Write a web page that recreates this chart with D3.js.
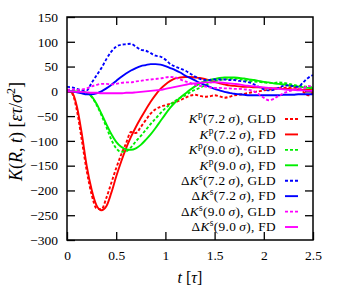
<!DOCTYPE html>
<html>
<head>
<meta charset="utf-8">
<script src="https://cdn.jsdelivr.net/npm/d3@7"></script>
<style>
  body { margin: 0; background: #fff; }
  svg { display: block; font-family: "Liberation Serif", "DejaVu Serif", serif; }
  .tick text { font-size: 13.5px; fill: #000; }
  .tick line { stroke: #000; stroke-width: 1.3px; }
</style>
</head>
<body>
<svg id="chart" width="340" height="290"></svg>
<script>
// sample times [tau], step 0.05 from 0 to 2.5
const time = d3.range(51).map(i => i * 0.05);

// K^p and Delta K^s  [eps tau / sigma^2]
const kp72gld = [0,-4,-38,-98,-160,-208,-236,-238,-215,-185,-155,-128,-105,-82,-84,-72,-58,-45,-36,-31,-28,-25,-22,-18,-13,-9,-7,-9,-11,-10,-8,-10,-13,-11,-8,-7,-5,-3,-1,0,2,3,5,6,7,8,8,5,-1,-8,-2];
const kp72fd  = [0,-2,-30,-85,-150,-198,-230,-240,-232,-205,-172,-142,-115,-92,-72,-54,-37,-21,-7,5,14,21,26,28,29,29,28,27,25,22,19,16,14,12,11,10,9,9,8,8,7,7,6,6,5,5,4,4,3,3,3];
const kp90gld = [0,2,1,0,-3,-11,-27,-48,-72,-97,-115,-122,-121,-113,-101,-90,-78,-66,-55,-44,-34,-26,-19,-13,-8,-2,3,7,12,17,21,23,24,25,26,25,23,21,20,19,18,17,17,18,17,15,13,11,10,9,8];
const kp90fd  = [0,0,0,-1,-3,-10,-25,-45,-66,-86,-102,-112,-117,-118,-115,-108,-98,-87,-74,-60,-46,-33,-22,-13,-5,3,10,16,20,23,25,27,28,28,28,27,26,24,23,21,19,18,16,15,14,12,11,10,8,7,6];
const dks72gld = [9,8,5,2,2,17,32,47,65,80,90,94,95,96,90,84,82,77,72,70,64,55,50,46,42,36,30,25,23,23,24,24,24,23,23,21,20,18,14,9,4,2,3,7,11,12,10,9,18,27,33];
const dks72fd  = [0,0,-2,-4,-6,-6,-4,0,6,13,21,29,36,42,47,51,53,55,55,54,51,47,43,38,32,27,22,17,13,9,5,2,-1,-3,-5,-6,-7,-8,-8,-8,-8,-8,-8,-8,-7,-7,-7,-6,-6,-6,-6];
const dks90gld = [3,4,3,4,6,10,13,15,15,14,15,17,18,18,20,21,23,24,25,26,28,29,28,24,20,17,13,11,10,8,7,7,6,6,5,5,4,3,0,-6,-13,-18,-15,-9,-4,0,3,5,6,11,8];
const dks90fd  = [0,0,-1,-1,-2,-3,-3,-4,-4,-4,-4,-4,-3,-3,-2,-1,0,1,2,3,5,7,9,11,13,15,16,17,18,18,18,18,17,16,15,14,12,11,10,9,8,7,6,5,4,3,3,2,2,1,1];

// legend pieces
const legendDelta  = ['', '', '', '', 'Δ', 'Δ', 'Δ', 'Δ'];
const legendSup    = ['p', 'p', 'p', 'p', 's', 's', 's', 's'];
const legendRadius = ['7.2', '7.2', '9.0', '9.0', '7.2', '7.2', '9.0', '9.0'];
const legendMethod = ['GLD', 'FD', 'GLD', 'FD', 'GLD', 'FD', 'GLD', 'FD'];

const xTicks = [0, 0.5, 1, 1.5, 2, 2.5];
const yTicks = [-300, -250, -200, -150, -100, -50, 0, 50, 100, 150];

const seriesValues = [kp72gld, kp72fd, kp90gld, kp90fd, dks72gld, dks72fd, dks90gld, dks90fd];
const colours = ['#ff0000', '#ff0000', '#00ee00', '#00ee00', '#0000ff', '#0000ff', '#ff00ff', '#ff00ff'];

const margin = {left: 67, right: 27, top: 17, bottom: 50};
const width = 340, height = 290;
const svg = d3.select('#chart');

const x = d3.scaleLinear().domain([0, 2.5]).range([margin.left, width - margin.right]);
const y = d3.scaleLinear().domain([-300, 150]).range([height - margin.bottom, margin.top]);

svg.append('defs').append('clipPath').attr('id', 'plotclip')
  .append('rect')
  .attr('x', x(0)).attr('y', y(150))
  .attr('width', x(2.5) - x(0)).attr('height', y(-300) - y(150));

// axes, ticks pointing inward
const tl = 8;
const clean = g => g.attr('font-family', null).attr('font-size', null).select('.domain').remove();
svg.append('g').attr('transform', `translate(0,${y(-300)})`)
  .call(d3.axisBottom(x).tickValues(xTicks).tickSize(-tl).tickPadding(10).tickFormat(d3.format('')))
  .call(clean);
svg.append('g').attr('transform', `translate(0,${y(150)})`)
  .call(d3.axisTop(x).tickValues(xTicks.slice(1, -1)).tickSize(-tl).tickFormat(''))
  .call(clean);
svg.append('g').attr('transform', `translate(${x(0)},0)`)
  .call(d3.axisLeft(y).tickValues(yTicks).tickSize(-tl).tickPadding(9))
  .call(clean);
svg.append('g').attr('transform', `translate(${x(2.5)},0)`)
  .call(d3.axisRight(y).tickValues(yTicks.slice(1, -1)).tickSize(-tl).tickFormat(''))
  .call(clean);

// curves
const line = d3.line()
  .x((d, i) => x(time[i]))
  .y(d => y(d))
  .curve(d3.curveMonotoneX);

svg.append('g').attr('clip-path', 'url(#plotclip)')
  .selectAll('path')
  .data(seriesValues)
  .join('path')
  .attr('d', line)
  .attr('fill', 'none')
  .attr('stroke', (d, i) => colours[i])
  .attr('stroke-width', 1.9)
  .attr('stroke-dasharray', (d, i) => legendMethod[i] === 'GLD' ? '3,2' : null);

// frame
svg.append('rect')
  .attr('x', x(0)).attr('y', y(150))
  .attr('width', x(2.5) - x(0)).attr('height', y(-300) - y(150))
  .attr('fill', 'none').attr('stroke', '#000').attr('stroke-width', 1.5);

// legend
const legend = svg.append('g');
seriesValues.forEach((s, i) => {
  const ly = 119 + i * 15.43;
  const t = legend.append('text')
    .attr('x', 276).attr('y', ly + 4.3)
    .attr('text-anchor', 'end')
    .attr('font-size', 13.3)
    .attr('letter-spacing', 0.35);
  t.append('tspan').text(legendDelta[i]);
  t.append('tspan').attr('font-style', 'italic').text('K');
  t.append('tspan').attr('font-size', 9.5).attr('dy', -5).text(legendSup[i]);
  t.append('tspan').attr('dy', 5).text(`(${legendRadius[i]}\u2009`);
  t.append('tspan').attr('font-style', 'italic').text('σ');
  t.append('tspan').text(`),\u00a0${legendMethod[i]}`);
  legend.append('line')
    .attr('x1', 285).attr('x2', 298).attr('y1', ly).attr('y2', ly)
    .attr('stroke', colours[i]).attr('stroke-width', 1.9)
    .attr('stroke-dasharray', legendMethod[i] === 'GLD' ? '3,2' : null);
});

// axis titles
const xt = svg.append('text')
  .attr('y', 283).attr('font-size', 16);
xt.append('tspan').attr('font-style', 'italic').text('t');
xt.append('tspan').text(' [');
xt.append('tspan').attr('font-style', 'italic').text('τ');
xt.append('tspan').text(']');
xt.attr('x', (x(0) + x(2.5)) / 2 - xt.node().getComputedTextLength() / 2);

const yt = svg.append('text').attr('font-size', 18);
yt.append('tspan').attr('font-style', 'italic').text('K');
yt.append('tspan').text('(');
yt.append('tspan').attr('font-style', 'italic').text('R');
yt.append('tspan').text(', ');
yt.append('tspan').attr('font-style', 'italic').text('t');
yt.append('tspan').text(') [');
yt.append('tspan').attr('font-style', 'italic').text('ετ');
yt.append('tspan').text('/');
yt.append('tspan').attr('font-style', 'italic').text('σ');
yt.append('tspan').attr('font-size', 12).attr('dy', -7).text('2');
yt.append('tspan').attr('dy', 7).text(']');
const ylen = yt.node().getComputedTextLength();
yt.attr('transform', `translate(22,${(y(150) + y(-300)) / 2 + 3 + ylen / 2}) rotate(-90)`);
</script>
</body>
</html>
